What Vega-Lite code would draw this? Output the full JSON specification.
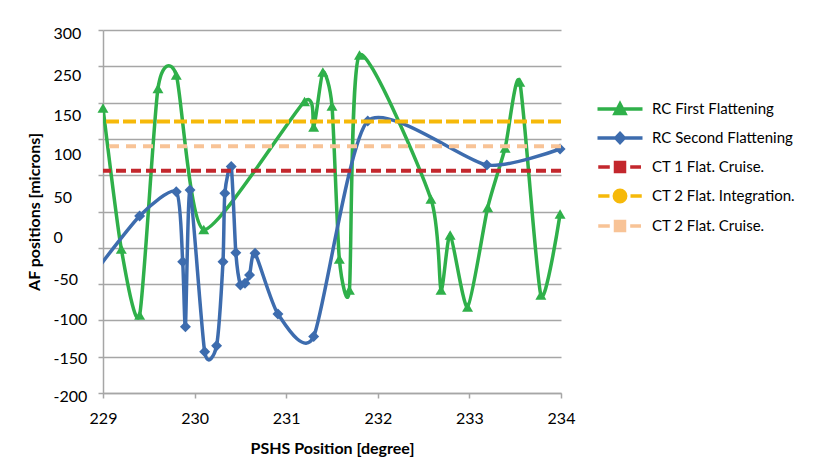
{
  "$schema": "https://vega.github.io/schema/vega-lite/v6.json",
  "width": 458,
  "height": 363,
  "autosize": {"type": "none"},
  "padding": {"left": 103, "top": 30, "right": 266, "bottom": 75},
  "background": "white",
  "config": {"view": {"stroke": null}, "font": "Lato"},
  "datasets": {
    "curves": [
      {"series": "RC First Flattening", "x": 229.0, "y": 192.6},
      {"series": "RC First Flattening", "x": 229.2, "y": -1.7},
      {"series": "RC First Flattening", "x": 229.4, "y": -92.6},
      {"series": "RC First Flattening", "x": 229.6, "y": 219.4},
      {"series": "RC First Flattening", "x": 229.8, "y": 238},
      {"series": "RC First Flattening", "x": 230.1, "y": 25.2},
      {"series": "RC First Flattening", "x": 231.2, "y": 201.5},
      {"series": "RC First Flattening", "x": 231.3, "y": 166.4},
      {"series": "RC First Flattening", "x": 231.4, "y": 242.1},
      {"series": "RC First Flattening", "x": 231.5, "y": 195.3},
      {"series": "RC First Flattening", "x": 231.58, "y": -15.4},
      {"series": "RC First Flattening", "x": 231.69, "y": -58.1},
      {"series": "RC First Flattening", "x": 231.8, "y": 265.6},
      {"series": "RC First Flattening", "x": 232.58, "y": 67.2},
      {"series": "RC First Flattening", "x": 232.69, "y": -58.1},
      {"series": "RC First Flattening", "x": 232.79, "y": 17.6},
      {"series": "RC First Flattening", "x": 232.98, "y": -81.5},
      {"series": "RC First Flattening", "x": 233.2, "y": 55.5},
      {"series": "RC First Flattening", "x": 233.39, "y": 137.5},
      {"series": "RC First Flattening", "x": 233.55, "y": 228.4},
      {"series": "RC First Flattening", "x": 233.78, "y": -65},
      {"series": "RC First Flattening", "x": 233.99, "y": 46.6},
      {"series": "RC Second Flattening", "x": 228.8, "y": -52},
      {"series": "RC Second Flattening", "x": 229.4, "y": 43.8},
      {"series": "RC Second Flattening", "x": 229.8, "y": 77.3},
      {"series": "RC Second Flattening", "x": 229.87, "y": -19.1},
      {"series": "RC Second Flattening", "x": 229.9, "y": -108.7},
      {"series": "RC Second Flattening", "x": 229.95, "y": 79.6},
      {"series": "RC Second Flattening", "x": 230.11, "y": -143.1},
      {"series": "RC Second Flattening", "x": 230.24, "y": -134.8},
      {"series": "RC Second Flattening", "x": 230.31, "y": -19.1},
      {"series": "RC Second Flattening", "x": 230.33, "y": 75.1},
      {"series": "RC Second Flattening", "x": 230.4, "y": 112},
      {"series": "RC Second Flattening", "x": 230.45, "y": -6.7},
      {"series": "RC Second Flattening", "x": 230.5, "y": -51.2},
      {"series": "RC Second Flattening", "x": 230.55, "y": -48.9},
      {"series": "RC Second Flattening", "x": 230.6, "y": -37.5},
      {"series": "RC Second Flattening", "x": 230.66, "y": -7.6},
      {"series": "RC Second Flattening", "x": 230.91, "y": -91.2},
      {"series": "RC Second Flattening", "x": 231.3, "y": -122.2},
      {"series": "RC Second Flattening", "x": 231.89, "y": 174.7},
      {"series": "RC Second Flattening", "x": 233.19, "y": 114},
      {"series": "RC Second Flattening", "x": 233.99, "y": 136.1}
    ],
    "levels": [
      {"series": "CT 1 Flat. Cruise.", "y": 106},
      {"series": "CT 2 Flat. Integration.", "y": 174},
      {"series": "CT 2 Flat. Cruise.", "y": 140}
    ]
  },
  "layer": [
    {
      "data": {"name": "curves"},
      "encoding": {
        "x": {
          "field": "x", "type": "quantitative",
          "scale": {"domain": [229, 234], "nice": false, "zero": false},
          "axis": {
            "values": [229, 230, 231, 232, 233, 234], "format": "d",
            "grid": false, "tickSize": 5, "tickColor": "#a6a6a6", "tickWidth": 1.5,
            "domainColor": "#a6a6a6", "domainWidth": 1.5,
            "labelFontSize": 16, "labelColor": "#000", "labelPadding": 12, "labelFlush": false,
            "title": "PSHS Position [degree]", "titleFontSize": 16, "titleFontWeight": "bold",
            "titleColor": "#000", "titlePadding": 14
          }
        },
        "y": {
          "field": "y", "type": "quantitative",
          "scale": {"domain": [-200, 300], "nice": false, "zero": false},
          "axis": {
            "values": [-200, -150, -100, -50, 0, 50, 100, 150, 200, 250, 300],
            "labels": false, "grid": true, "gridColor": "#a6a6a6", "gridWidth": 1.5,
            "tickSize": 5, "tickColor": "#a6a6a6", "tickWidth": 1.5,
            "domainColor": "#a6a6a6", "domainWidth": 1.5,
            "title": "AF positions [microns]", "titleFontSize": 16, "titleFontWeight": "bold",
            "titleColor": "#000", "titlePadding": 55
          }
        },
        "color": {
          "field": "series", "type": "nominal",
          "scale": {
            "domain": ["RC First Flattening", "RC Second Flattening", "CT 1 Flat. Cruise.", "CT 2 Flat. Integration.", "CT 2 Flat. Cruise."],
            "range": ["#2fb04a", "#3d6cae", "#c3272d", "#f6b90a", "#f8c396"]
          },
          "legend": {
            "orient": "none", "legendX": 500, "legendY": 62, "title": null,
            "symbolSize": 900, "symbolStrokeWidth": 3.5, "labelOffset": 15, "rowPadding": 0,
            "labelFontSize": 15, "labelColor": "#000", "labelFont": "Lato",
            "encode": {
              "symbols": {
                "update": {
                  "shape": {"signal": "datum.value==='RC First Flattening' ? 'M-1.5,0H1.5M-0.33,0.3L0,-0.33L0.33,0.3Z' : datum.value==='RC Second Flattening' ? 'M-1.5,0H1.5M0,-0.3L0.28,0L0,0.3L-0.28,0Z' : datum.value==='CT 2 Flat. Integration.' ? 'M-1.45,0H-0.7M0.7,0H1.45M-0.38,0A0.38,0.38,0,1,1,0.38,0A0.38,0.38,0,1,1,-0.38,0Z' : 'M-1.45,0H-0.68M0.68,0H1.4M-0.3,-0.3H0.3V0.3H-0.3Z'"},
                  "fill": {"scale": "color", "field": "value"},
                  "stroke": {"scale": "color", "field": "value"},
                  "strokeDash": {"value": []},
                  "opacity": {"value": 1}
                }
              }
            }
          }
        }
      },
      "layer": [
        {
          "mark": {"type": "line", "interpolate": "cardinal", "tension": 0.35, "strokeWidth": 3.5, "clip": true}
        },
        {
          "transform": [{"filter": "datum.x >= 229"}],
          "mark": {"type": "point", "filled": true, "opacity": 1},
          "encoding": {
            "shape": {
              "field": "series", "type": "nominal",
              "scale": {"domain": ["RC First Flattening", "RC Second Flattening"], "range": ["triangle-up", "diamond"]},
              "legend": null
            },
            "size": {"value": 120}
          }
        }
      ]
    },
    {
      "data": {"name": "levels"},
      "mark": {"type": "rule", "strokeWidth": 4},
      "encoding": {
        "y": {
          "field": "y", "type": "quantitative",
          "axis": {
            "orient": "left",
            "values": [300, 242, 187, 132, 74, 19, -39, -94, -149, -200],
            "labelExpr": "datum.value==300?'300':datum.value==242?'250':datum.value==187?'150':datum.value==132?'100':datum.value==74?'50':datum.value==19?'0':datum.value==-39?'-50':datum.value==-94?'-100':datum.value==-149?'-150':'-200'",
            "grid": false, "ticks": false, "tickSize": 0, "domain": false,
            "labelAlign": "left", "labelPadding": 50, "labelOffset": 3, "labelFontSize": 16, "labelColor": "#000",
            "labelOverlap": false, "labelBound": false, "title": null
          }
        },
        "color": {"field": "series", "type": "nominal"},
        "strokeDash": {
          "field": "series", "type": "nominal",
          "scale": {"domain": ["CT 1 Flat. Cruise.", "CT 2 Flat. Integration.", "CT 2 Flat. Cruise."], "range": [[10, 5], [13, 4], [10, 7]]},
          "legend": null
        }
      }
    }
  ],
  "resolve": {"axis": {"y": "independent"}}
}
